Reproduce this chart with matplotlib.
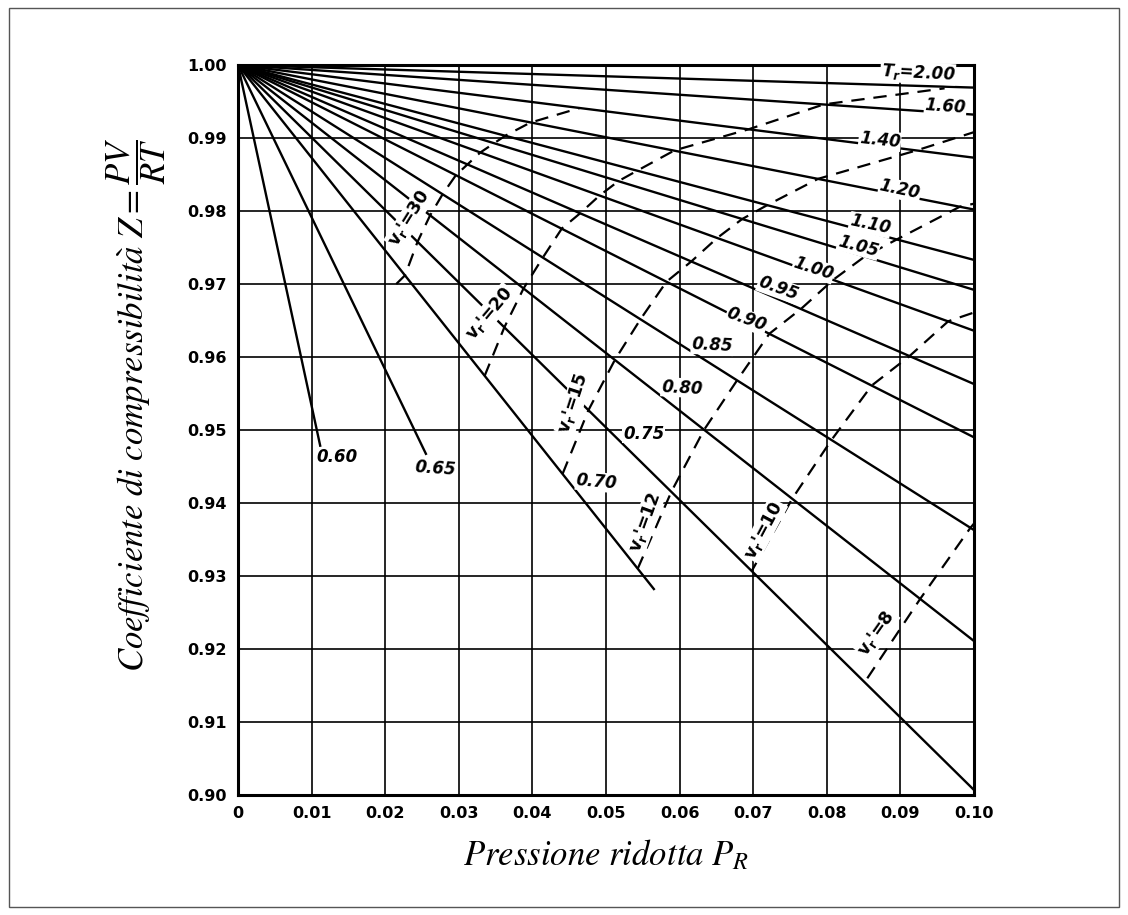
import numpy as np
import matplotlib.pyplot as plt
from matplotlib.patches import Rectangle

# reduced temperature lines: all start at (0, 1), end points
tr_labels = ["0.60", "0.65", "0.70", "0.75", "0.80", "0.85", "0.90", "0.95",
             "1.00", "1.05", "1.10", "1.20", "1.40", "1.60", "2.00"]
pr_end = [0.0112, 0.0256, 0.0566, 0.100, 0.100, 0.100, 0.100, 0.100,
          0.100, 0.100, 0.100, 0.100, 0.100, 0.100, 0.100]
z_end = [0.9477, 0.9466, 0.9281, 0.9007, 0.9211, 0.9363, 0.9490, 0.9563,
         0.9636, 0.9692, 0.9733, 0.9802, 0.9873, 0.9932, 0.9969]

# label positions / rotation for the Tr lines
tr_lab_x = [0.0135, 0.0268, 0.0487, 0.0551, 0.0603, 0.0644, 0.0691, 0.0734,
            0.0782, 0.0843, 0.0859, 0.0899, 0.0872, 0.0961, 0.0924]
tr_lab_y = [0.9463, 0.9448, 0.9429, 0.9495, 0.9558, 0.9616, 0.9651, 0.9694,
            0.9721, 0.9752, 0.9781, 0.9829, 0.9897, 0.9943, 0.9989]
tr_lab_rot = [0, -4, -5, 0, -3, -3, -20, -20, -18, -15, -12, -12, -6, -4, -3]

# ideal reduced volume lines (dashed)
v_labels = ["30", "20", "15", "12", "10", "8"]
v_pr = [
    [0.0215, 0.0227, 0.0244, 0.0261, 0.0278, 0.0296, 0.0312, 0.0329, 0.0363, 0.0397, 0.0464],
    [0.0335, 0.0362, 0.0388, 0.0414, 0.0440, 0.0465, 0.0491, 0.0517, 0.0542, 0.0593, 0.0694, 0.0796, 0.0960],
    [0.0441, 0.0476, 0.0512, 0.0547, 0.0582, 0.0616, 0.0651, 0.0685, 0.0719, 0.0788, 0.0922, 0.1000],
    [0.0543, 0.0589, 0.0633, 0.0678, 0.0722, 0.0765, 0.0809, 0.0852, 0.0895, 0.0981, 0.1000],
    [0.0698, 0.0753, 0.0806, 0.0861, 0.0912, 0.0965, 0.1000],
    [0.0855, 0.0927, 0.0995, 0.1000],
]
v_z = [
    [0.9700, 0.9712, 0.9758, 0.9794, 0.9823, 0.9849, 0.9864, 0.9880, 0.9903, 0.9921, 0.9941],
    [0.9574, 0.9641, 0.9694, 0.9736, 0.9776, 0.9797, 0.9821, 0.9841, 0.9855, 0.9883, 0.9912, 0.9946, 0.9968],
    [0.9440, 0.9527, 0.9596, 0.9652, 0.9703, 0.9731, 0.9763, 0.9789, 0.9808, 0.9844, 0.9883, 0.9908],
    [0.9310, 0.9416, 0.9500, 0.9568, 0.9632, 0.9666, 0.9706, 0.9738, 0.9761, 0.9806, 0.9810],
    [0.9307, 0.9406, 0.9486, 0.9561, 0.9601, 0.9649, 0.9661],
    [0.9160, 0.9269, 0.9366, 0.9372],
]
v_lab_x = [0.0233, 0.0342, 0.0456, 0.0553, 0.0714, 0.0868]
v_lab_y = [0.9790, 0.9660, 0.9537, 0.9374, 0.9363, 0.9222]
v_lab_rot = [58, 50, 72, 70, 62, 55]

x_ticks = np.arange(0, 0.101, 0.01)
y_ticks = np.arange(0.90, 1.001, 0.01)

plt.rcParams['mathtext.fontset'] = 'stix'

fig = plt.figure(figsize=(11.28, 9.15), dpi=100)
ax = fig.add_axes([0.211, 0.131, 0.6525, 0.798])

# grid
for xv in x_ticks[1:-1]:
    ax.axvline(xv, color='black', lw=1.2, zorder=1)
for yv in y_ticks[1:-1]:
    ax.axhline(yv, color='black', lw=1.2, zorder=1)

# Tr lines
for i in range(len(tr_labels)):
    ax.plot([0, pr_end[i]], [1.0, z_end[i]], color='black', lw=1.7, zorder=2,
            solid_capstyle='butt')
    txt = tr_labels[i]
    if txt == "2.00":
        txt = r"$\mathregular{T_r}$=2.00"
    ax.text(tr_lab_x[i], tr_lab_y[i], txt, fontsize=12, fontstyle='italic',
            fontweight='bold', ha='center', va='center', rotation=tr_lab_rot[i],
            zorder=4, bbox=dict(facecolor='white', edgecolor='none', pad=0.5))

# v_r' lines
for i in range(len(v_labels)):
    ax.plot(v_pr[i], v_z[i], color='black', lw=1.6, zorder=3,
            linestyle=(0, (6, 4)))
    ax.text(v_lab_x[i], v_lab_y[i], r"$\mathregular{v_r}$'=" + v_labels[i],
            fontsize=12.5, fontweight='bold', ha='center', va='center',
            rotation=v_lab_rot[i], zorder=4,
            bbox=dict(facecolor='white', edgecolor='none', pad=0.5))

ax.set_xlim(0, 0.10)
ax.set_ylim(0.90, 1.00)
ax.set_xticks(x_ticks)
ax.set_xticklabels(["0"] + ["%.2f" % t for t in x_ticks[1:]])
ax.set_yticks(y_ticks)
ax.set_yticklabels(["%.2f" % t for t in y_ticks])
ax.tick_params(length=0, pad=8, labelsize=11.5)
for lab in ax.get_xticklabels() + ax.get_yticklabels():
    lab.set_fontweight('bold')
for s in ax.spines.values():
    s.set_linewidth(2.2)

ax.set_xlabel(r"$\mathit{Pressione\ ridotta}\ P_R$", fontsize=25)
ax.xaxis.set_label_coords(0.5, -0.058)
ax.set_ylabel(r"$\mathit{Coefficiente\ di\ compressibilit\grave{a}}\ Z=\dfrac{PV}{RT}$",
              fontsize=25)
ax.yaxis.set_label_coords(-0.095, 0.535)

fig.patches.append(Rectangle((0.008, 0.009), 0.984, 0.982, transform=fig.transFigure,
                             fill=False, edgecolor='#555555', lw=1))

fig.savefig("out.png", dpi=100)
